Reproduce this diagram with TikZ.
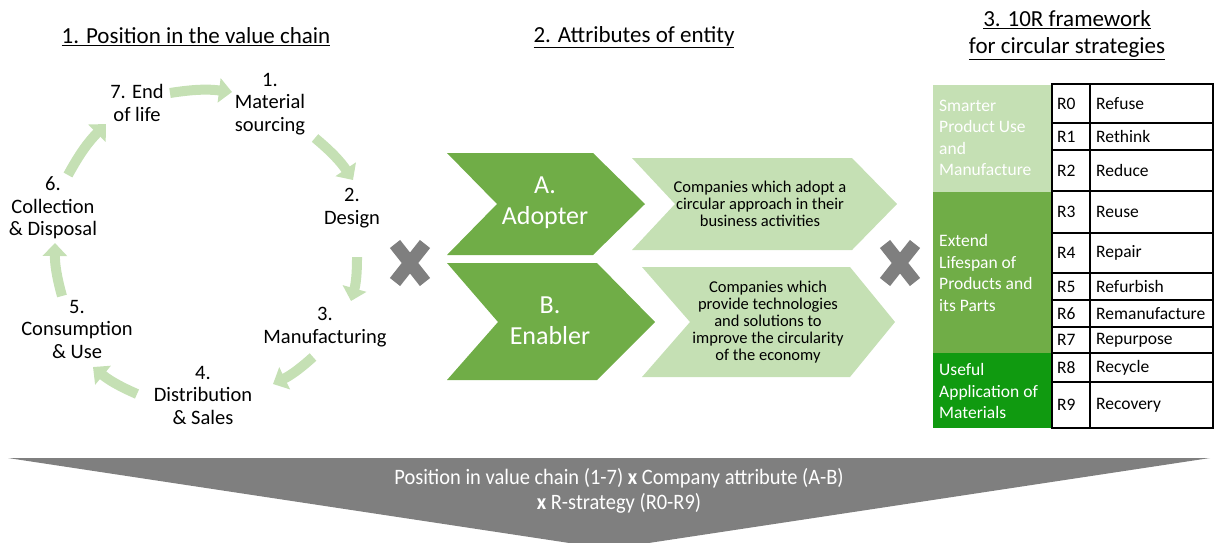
\documentclass[tikz,border=0pt]{standalone}
\usepackage{fontspec}
\setmainfont{Carlito}
\usetikzlibrary{arrows.meta}
\definecolor{lg}{HTML}{C5E0B4}
\definecolor{mg}{HTML}{70AD47}
\definecolor{dg}{HTML}{109A10}
\definecolor{gx}{HTML}{7F7F7F}
\begin{document}
\begin{tikzpicture}[x=1pt,y=-1pt,
  cyc/.style={line width=10pt, draw=lg, -{Triangle[width=24pt,length=13pt]}},
  lbl/.style={font=\fontsize{20.5}{22.5}\selectfont, align=center, inner sep=0pt},
  ttl/.style={font=\fontsize{23}{27}\selectfont, align=center, inner sep=0pt},
  xmark/.style={line width=13pt, draw=gx},
  big/.style={font=\fontsize{26}{31}\selectfont, align=center, text=white, inner sep=0pt},
  desc/.style={font=\fontsize{16.5}{16.8}\selectfont, align=center, inner sep=0pt},
  tbl/.style={draw=black, line width=1.2pt},
  rc/.style={font=\fontsize{17.5}{19}\selectfont, inner sep=0pt, anchor=west},
  grp/.style={font=\fontsize{17.5}{21.5}\selectfont, align=left, text=white, inner sep=0pt, anchor=west}]
\clip (0,0) rectangle (1215,542);
\useasboundingbox (0,0) rectangle (1215,542);
% titles
\node[ttl] (t1) at (196,37) {\underline{1. Position in the value chain}};
\node[ttl] (t2) at (634,37) {\underline{2. Attributes of entity}};
\node[ttl] (t3) at (1067,35) {\underline{3. 10R framework}\\\underline{for circular strategies}};
% cycle labels
\node[lbl] (c7) at (137,103) {7. End\\of life};
\node[lbl] (c1) at (270,104) {1.\\Material\\sourcing};
\node[lbl] (c2) at (352,208) {2.\\Design};
\node[lbl] (c3) at (325,327) {3.\\Manufacturing};
\node[lbl] (c4) at (203,395) {4.\\Distribution\\\& Sales};
\node[lbl] (c5) at (77,329) {5.\\Consumption\\\& Use};
\node[lbl] (c6) at (53,208) {6.\\Collection\\\& Disposal};
% cycle arrows
\coordinate (a1s) at (170,93);  \coordinate (a1e) at (232,92);
\coordinate (a2s) at (315,138); \coordinate (a2e) at (353,180);
\coordinate (a3s) at (357,257); \coordinate (a3e) at (351,301);
\coordinate (a4s) at (313,357); \coordinate (a4e) at (273,384);
\coordinate (a5s) at (137,394); \coordinate (a5e) at (93,367);
\coordinate (a6s) at (62,296);  \coordinate (a6e) at (55,243);
\coordinate (a7s) at (68,175);  \coordinate (a7e) at (106,124);
\draw[cyc] (a1s) to[bend left=8] (a1e);
\draw[cyc] (a2s) to[bend left=8] (a2e);
\draw[cyc] (a3s) to[bend left=8] (a3e);
\draw[cyc] (a4s) to[bend left=8] (a4e);
\draw[cyc] (a5s) to[bend left=8] (a5e);
\draw[cyc] (a6s) to[bend left=8] (a6e);
\draw[cyc] (a7s) to[bend left=8] (a7e);
% X marks
\coordinate (x1) at (410,263);
\coordinate (x2) at (900,263);
\foreach \c in {x1,x2}{
  \draw[xmark] ([shift={(-15,-19)}]\c) -- ([shift={(15,19)}]\c);
  \draw[xmark] ([shift={(15,-19)}]\c) -- ([shift={(-15,19)}]\c);
}
% chevrons
\fill[mg] (447,153) -- (593,153) -- (645,204) -- (593,255) -- (447,255) -- (497,204) -- cycle;
\fill[mg] (447,263) -- (597,263) -- (655,322) -- (597,380) -- (447,380) -- (498,322) -- cycle;
\fill[lg] (632,158) -- (852,158) -- (897,204) -- (852,250) -- (632,250) -- (675,204) -- cycle;
\fill[lg] (642,267) -- (850,267) -- (895,322) -- (850,377) -- (642,377) -- (690,322) -- cycle;
\node[big] (ca) at (545,203) {A.\\Adopter};
\node[big] (cb) at (550,321) {B.\\Enabler};
\node[desc] (da) at (760,204) {Companies which adopt a\\circular approach in their\\business activities};
\node[desc] (db) at (768,322) {Companies which\\provide technologies\\and solutions to\\improve the circularity\\of the economy};
% table
\fill[lg] (933,85) rectangle (1052,192);
\fill[mg] (933,192) rectangle (1052,353);
\fill[dg] (933,353) rectangle (1052,428);
\node[grp] (g1) at (939,138) {Smarter\\Product Use\\and\\Manufacture};
\node[grp] (g2) at (939,273) {Extend\\Lifespan of\\Products and\\its Parts};
\node[grp] (g3) at (939,391) {Useful\\Application of\\Materials};
\foreach \t/\b/\c/\n in {84/123/R0/Refuse,123/150/R1/Rethink,150/191/R2/Reduce,191/233/R3/Reuse,233/273/R4/Repair,273/300/R5/Refurbish,300/327/R6/Remanufacture,327/353/R7/Repurpose,353/382/R8/Recycle,382/428/R9/Recovery}{
  \draw[tbl] (1052,\t) rectangle (1090,\b);
  \draw[tbl] (1090,\t) rectangle (1213,\b);
  \node[rc] (k\c) at (1057,{(\t+\b)/2}) {\c};
  \node[rc] (n\c) at (1096,{(\t+\b)/2}) {\n};
}
% bottom arrow
\fill[gx] (8,458) -- (1210,458) -- (609,549) -- cycle;
\node[font=\fontsize{22}{25}\selectfont, align=center, text=white, inner sep=0pt] (bt) at (619,491)
  {\scalebox{0.93}[1]{Position in value chain (1-7) \textbf{x} Company attribute (A-B)}\\\scalebox{0.93}[1]{\textbf{x} R-strategy (R0-R9)}};
\end{tikzpicture}
\end{document}
